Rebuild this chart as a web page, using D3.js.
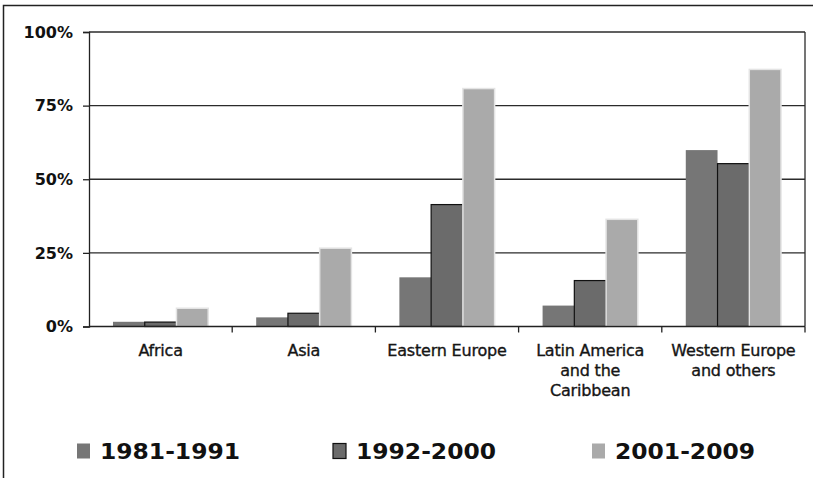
<!DOCTYPE html>
<html>
<head>
<meta charset="utf-8">
<script src="https://cdn.jsdelivr.net/npm/d3@7"></script>
<style>
  html, body { margin: 0; padding: 0; background: #fff; }
  svg { display: block; }
</style>
</head>
<body>
<svg id="chart" width="813" height="478"></svg>
<script>
// Regions and periods
const categories = [
  ["Africa"],
  ["Asia"],
  ["Eastern Europe"],
  ["Latin America", "and the", "Caribbean"],
  ["Western Europe", "and others"]
];
const periods = ["1981-1991", "1992-2000", "2001-2009"];

// Share per region, one array per period
const values1981 = [0.016, 0.031, 0.167, 0.071, 0.599];
const values1992 = [0.015, 0.045, 0.414, 0.156, 0.553];
const values2001 = [0.062, 0.266, 0.808, 0.364, 0.873];
const yTicks = [0, 0.25, 0.5, 0.75, 1];

const series = [values1981, values1992, values2001];
const fills = ["#767676", "#6b6b6b", "#aaaaaa"];
const strokes = ["none", "#111", "#e4e4e4"];

const svg = d3.select("#chart");
const plot = { left: 89, right: 805, top: 32, bottom: 326.5 };

// outer frame (top and left edges visible)
svg.append("path")
  .attr("d", "M3.5,478 L3.5,5.5 L813,5.5")
  .attr("fill", "none").attr("stroke", "#222").attr("stroke-width", 1.5);

const x = d3.scaleBand()
  .domain(categories.map((d, i) => i))
  .range([plot.left, plot.right])
  .padding(0);

const bw = x.bandwidth();
const gap = bw * 0.335;
const x1 = d3.scaleBand()
  .domain(periods)
  .range([gap / 2, bw - gap / 2])
  .padding(0);

const y = d3.scaleLinear().domain([0, 1]).range([plot.bottom, plot.top]);

// horizontal gridlines
svg.append("g")
  .selectAll("line")
  .data(yTicks.filter(t => t > 0))
  .join("line")
  .attr("x1", plot.left).attr("x2", plot.right)
  .attr("y1", d => y(d)).attr("y2", d => y(d))
  .attr("stroke", "#2b2b2b").attr("stroke-width", 1.3);

// right edge of the plot area
svg.append("line")
  .attr("x1", plot.right).attr("x2", plot.right)
  .attr("y1", plot.top).attr("y2", plot.bottom)
  .attr("stroke", "#2b2b2b").attr("stroke-width", 1.3);

// bars
series.forEach((vals, s) => {
  svg.append("g")
    .selectAll("rect")
    .data(vals)
    .join("rect")
    .attr("x", (d, i) => x(i) + x1(periods[s]))
    .attr("width", x1.bandwidth())
    .attr("y", d => y(d))
    .attr("height", d => y(0) - y(d))
    .attr("fill", fills[s])
    .attr("stroke", strokes[s])
    .attr("stroke-width", s === 1 ? 1.2 : 1.5);
});

// y axis
const yAxis = d3.axisLeft(y)
  .tickValues(yTicks)
  .tickFormat(d3.format(".0%"))
  .tickSize(6)
  .tickPadding(10);
const gy = svg.append("g")
  .attr("transform", `translate(${plot.left},0)`)
  .call(yAxis);
gy.select(".domain").attr("stroke", "#222").attr("stroke-width", 1.3);
gy.selectAll(".tick line").attr("stroke", "#222").attr("stroke-width", 1.3);
gy.selectAll(".tick text")
  .attr("font-family", "'DejaVu Sans', Verdana, sans-serif")
  .attr("font-weight", "bold")
  .attr("font-size", 16)
  .attr("fill", "#111");

// x axis with ticks at band boundaries
const xBoundary = d3.scaleLinear().domain([0, categories.length]).range([plot.left, plot.right]);
const gx = svg.append("g");
gx.append("line")
  .attr("x1", plot.left).attr("x2", plot.right)
  .attr("y1", plot.bottom).attr("y2", plot.bottom)
  .attr("stroke", "#222").attr("stroke-width", 1.3);
gx.selectAll("line.tk")
  .data(d3.range(1, categories.length + 1))
  .join("line")
  .attr("class", "tk")
  .attr("x1", d => xBoundary(d)).attr("x2", d => xBoundary(d))
  .attr("y1", plot.bottom).attr("y2", plot.bottom + 6)
  .attr("stroke", "#222").attr("stroke-width", 1.3);

// category labels
const labels = svg.append("g")
  .attr("font-family", "'DejaVu Sans', Tahoma, sans-serif")
  .attr("font-size", 16)
  .attr("fill", "#151515")
  .attr("stroke", "#151515")
  .attr("stroke-width", 0.35)
  .attr("text-anchor", "middle");
categories.forEach((lines, i) => {
  const t = labels.append("text")
    .attr("x", x(i) + bw / 2)
    .attr("y", 356);
  lines.forEach((ln, k) => {
    t.append("tspan")
      .attr("x", x(i) + bw / 2)
      .attr("dy", k === 0 ? 0 : 20)
      .attr("letter-spacing", -0.2)
      .text(ln);
  });
});

// legend
const legendX = [77, 333, 592];
const legend = svg.append("g");
periods.forEach((p, i) => {
  legend.append("rect")
    .attr("x", legendX[i]).attr("y", 443.5)
    .attr("width", 13).attr("height", 15)
    .attr("fill", fills[i])
    .attr("stroke", i === 1 ? "#111" : "none")
    .attr("stroke-width", 1.2);
  legend.append("text")
    .attr("x", legendX[i] + 23)
    .attr("y", 459)
    .attr("font-family", "'DejaVu Sans', Verdana, sans-serif")
    .attr("font-weight", "bold")
    .attr("font-size", 22)
    .attr("fill", "#111")
    .attr("textLength", 140)
    .attr("lengthAdjust", "spacingAndGlyphs")
    .text(p);
});
</script>
</body>
</html>
